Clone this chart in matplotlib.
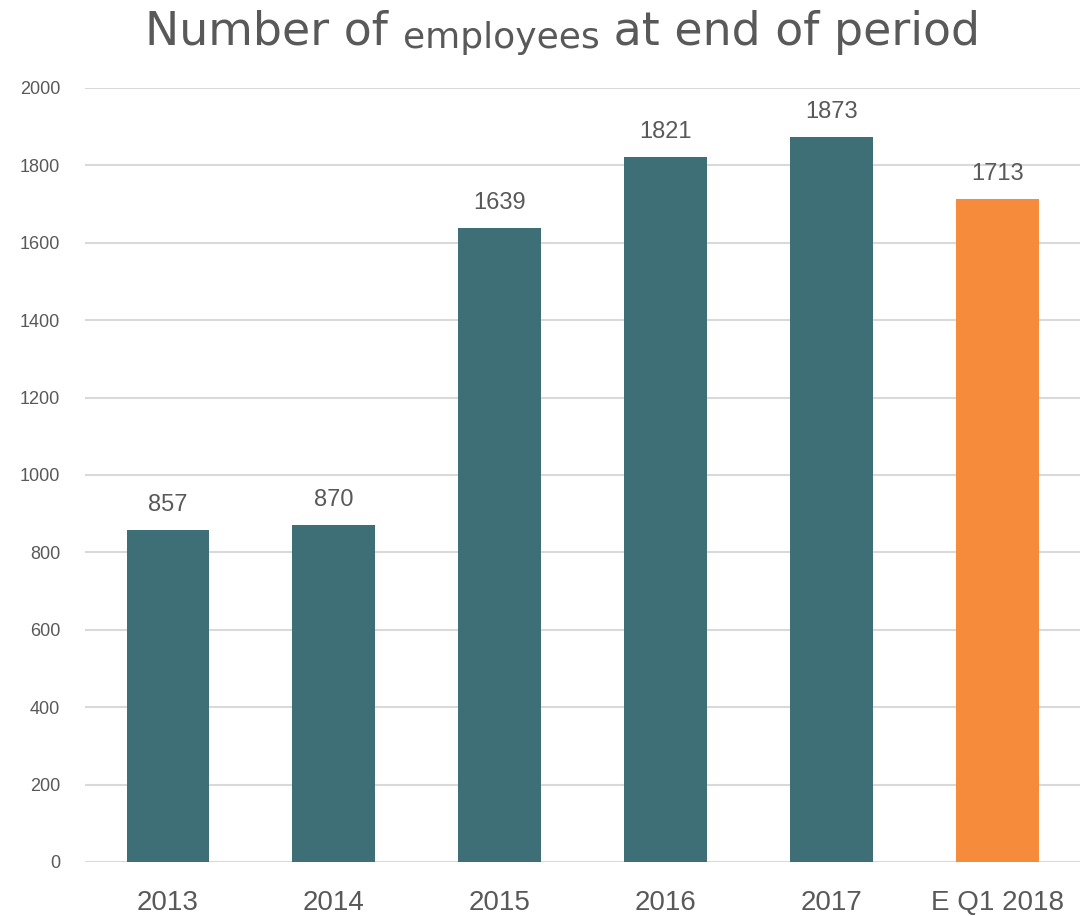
import matplotlib.pyplot as plt
import numpy as np

categories = ['2013', '2014', '2015', '2016', '2017', 'E Q1 2018']
employees = [857, 870, 1639, 1821, 1873, 1713]
bar_colors = ['#3F6F76', '#3F6F76', '#3F6F76', '#3F6F76', '#3F6F76', '#F58B3B']

plt.rcParams['font.family'] = ['Liberation Sans', 'DejaVu Sans']
grey = '#595959'

fig = plt.figure(figsize=(10.91, 9.16), dpi=100)
ax = fig.add_axes([0.078, 0.059, 0.912, 0.845])

x = np.arange(len(categories))
ax.bar(x, employees, width=0.5, color=bar_colors, zorder=3)

for xi, v in zip(x, employees):
    ax.annotate(str(v), xy=(xi, v), xytext=(0, 10), textcoords='offset points',
                ha='center', va='bottom', fontsize=17, color=grey)

ax.set_xlim(-0.5, len(categories) - 0.5)
ax.set_ylim(0, 2000)
ax.set_yticks(np.arange(0, 2001, 200))
ax.set_xticks(x)
ax.set_xticklabels(categories, fontsize=20, color=grey)
ax.tick_params(axis='y', labelsize=13, labelcolor=grey, length=0, pad=18)
ax.tick_params(axis='x', length=0, pad=20)
ax.grid(axis='y', color='#D9D9D9', linewidth=1.5, zorder=0)
for s in ax.spines.values():
    s.set_visible(False)

# title with a smaller middle word
tfont = ['DejaVu Sans']
t1 = fig.text(0.133, 0.951, 'Number of ', fontsize=33, color=grey, va='baseline', family=tfont)
t2 = ax.annotate('employees', xy=(1, 0), xycoords=t1, fontsize=26, color=grey, va='bottom', family=tfont)
t3 = ax.annotate(' at end of period', xy=(1, 0), xycoords=t2, fontsize=33, color=grey, va='bottom', family=tfont)

plt.savefig('out.png', dpi=100)
